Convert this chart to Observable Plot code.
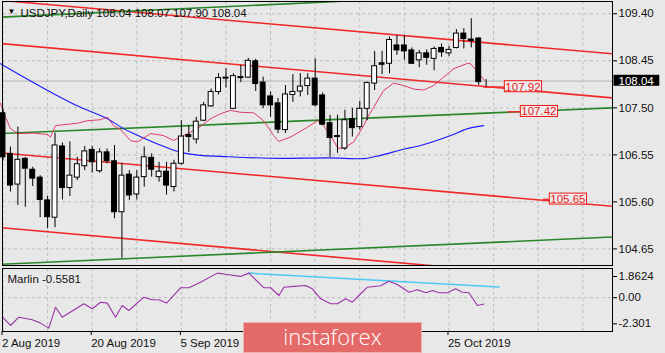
<!DOCTYPE html>
<html><head><meta charset="utf-8">
<script src="https://cdn.jsdelivr.net/npm/d3@7"></script>
<script src="https://cdn.jsdelivr.net/npm/@observablehq/plot@0.6"></script>
<style>
html,body{margin:0;padding:0;background:#e8e8e8;}
#wrap{position:relative;width:665px;height:353px;overflow:hidden;background:#e8e8e8;}
#main,#osc{position:absolute;left:0;}
#main{top:0;} #osc{top:267px;}
svg{display:block;}
.logo{position:absolute;left:243px;top:322px;width:179px;height:31px;background:#e46a6a;border:1px solid #f0b0b0;box-sizing:border-box;color:#fff;font:300 22px "Open Sans",sans-serif;text-align:center;line-height:27px;}
</style></head>
<body><div id="wrap"><div id="main"></div><div id="osc"></div><div class="logo">instaforex</div></div>
<script>
// ---------- data ----------
const symbolTitle = "USDJPY,Daily 108.04 108.07 107.90 108.04";
const open  = [107.39,106.57,105.95,106.47,106.25,106.09,105.63,105.28,106.72,105.88,106.09,106.32,106.65,106.22,106.60,106.42,105.39,106.15,105.75,106.10,106.49,106.10,106.21,105.90,106.37,106.95,106.86,107.24,107.53,107.82,108.11,107.48,108.12,108.11,108.44,108.01,107.73,107.59,107.05,107.76,107.83,107.94,108.09,107.75,107.19,106.93,106.68,107.27,107.11,107.48,107.99,108.40,108.39,108.76,108.76,108.66,108.46,108.60,108.49,108.71,108.60,108.71,109.00,108.88,108.90,108.04];
const high  = [107.47,106.71,107.11,106.50,106.30,106.13,105.71,106.99,106.79,106.81,106.50,106.72,106.72,106.67,106.67,106.74,106.38,106.23,106.23,106.71,106.57,106.40,106.40,106.44,107.24,107.14,107.31,107.61,107.88,108.19,108.29,108.19,108.36,108.50,108.48,108.12,107.82,107.69,107.95,108.17,108.19,108.19,108.49,107.80,107.35,107.35,107.45,107.49,107.63,108.02,108.64,108.64,108.93,108.96,108.96,108.71,108.66,108.67,108.73,108.79,108.74,109.08,109.10,109.30,108.92,108.07];
const low   = [106.42,105.80,105.53,105.49,105.91,105.28,105.06,105.08,105.64,105.71,106.03,106.23,106.18,106.18,106.37,105.26,104.46,105.63,105.64,105.90,106.10,106.00,105.74,105.80,106.34,106.60,106.77,107.22,107.51,107.76,107.90,107.47,108.01,108.10,107.83,107.48,107.31,106.98,106.98,107.61,107.72,107.75,107.52,107.14,106.50,106.58,106.64,106.91,107.05,107.24,107.85,108.17,108.19,108.56,108.46,108.38,108.31,108.36,108.25,108.52,108.54,108.69,108.69,108.71,107.95,107.90];
const close = [106.50,105.93,106.45,106.27,106.07,105.64,105.29,106.74,105.88,106.13,106.36,106.62,106.40,106.60,106.42,105.39,106.13,105.73,106.09,106.50,106.25,106.21,105.93,106.37,106.92,106.91,107.22,107.55,107.82,108.10,108.09,108.14,108.10,108.45,107.98,107.55,107.55,107.06,107.77,107.82,107.93,108.09,107.55,107.16,106.89,106.91,107.25,107.09,107.48,108.00,108.34,108.37,108.87,108.66,108.64,108.39,108.60,108.51,108.69,108.62,108.67,109.00,108.89,108.85,108.02,108.04];

const priceTicks = [109.40,108.45,107.50,106.55,105.60,104.65];
const lastPrice = 108.04;
const gridIdx = [0,6,12,18,24,30,36,42,48,54,60,66,72,78];
const xTickIdx = [0,12,24,60];
const xTickLabels = ["2 Aug 2019","20 Aug 2019","5 Sep 2019","25 Oct 2019"];

// moving averages (bar index, price)
const blueIdx = [-0.34,6.39,10.43,14.06,16.22,17.56,20.79,23.89,26.58,29.27,37.35,43.67,48.12,50.81,53.50,56.19,60.23,62.52,64.67];
const blueVal = [108.39,107.82,107.51,107.28,107.08,106.98,106.77,106.60,106.54,106.52,106.48,106.49,106.47,106.54,106.65,106.74,106.94,107.08,107.14];
const pinkIdx = [-0.34,0.34,1.01,1.95,4.10,5.99,6.39,7.07,10.03,11.37,13.12,14.06,14.87,15.81,17.16,18.10,19.85,21.60,22.95,24.83,26.18,27.93,29.27,30.62,31.97,33.72,35.06,36.41,37.08,38.70,40.98,42.33,43.14,44.35,45.02,45.83,47.17,48.52,49.06,49.87,51.21,52.56,53.90,55.25,56.59,57.94,59.29,60.63,62.52,62.92,63.86,64.80];
const pinkVal = [107.59,107.31,107.08,106.98,106.99,106.96,106.91,107.14,107.19,107.24,107.26,107.31,107.14,107.06,106.84,106.81,106.98,106.94,106.84,106.98,107.08,107.28,107.38,107.45,107.41,107.40,107.24,106.94,106.82,106.91,107.11,107.24,107.14,106.87,106.69,106.68,106.81,107.14,107.31,107.51,107.85,108.00,107.95,107.88,107.86,107.95,108.12,108.29,108.40,108.39,108.22,108.05];

// channel lines: price at left edge and at right edge
const lineIdx = [-0.34, 82.03];
const redStart = [109.67,108.80,106.59,105.08];
const redEnd   = [108.59,107.70,105.51,103.99];
const greenStart = [109.33,106.98,104.34];
const greenEnd   = [109.91,107.50,104.89];

// level labels
const levelText  = ["107.92","107.42","105.65"];
const levelPrice = [107.92,107.42,105.65];
const levelIdx   = [67.45,69.6,73.5];
const stubIdx    = [64.7,67.9,72.7];

// Marlin oscillator
const marlinName = "Marlin -0.5581";
const marlinIdx = [0.03,1.01,2.13,3.93,5.05,6.16,7.07,7.97,10.87,12.01,13.12,14.02,15.14,16.04,16.93,18.95,20.08,20.97,22.01,23.89,25.01,26.58,28.83,30.17,31.97,33.08,35.10,36.00,37.12,37.79,39.14,40.71,41.61,42.73,44.08,44.98,46.10,47.00,47.89,49.02,50.81,51.92,53.05,54.62,55.75,56.86,57.77,58.65,59.78,60.90,61.80,62.69,63.82,64.71];
const marlinVal = [-1.77,-2.45,-1.72,-1.95,-2.24,-2.68,-0.84,-1.72,-0.54,-0.98,-0.40,-0.48,-1.72,-0.69,-1.13,0.04,-0.18,-0.18,-0.48,0.87,0.87,1.36,2.16,2.04,1.87,2.16,0.87,0.87,0.19,0.92,0.99,1.07,0.78,-0.10,-0.54,-0.54,-0.10,-0.40,0.19,0.92,1.05,1.45,1.16,0.48,0.70,0.43,0.63,0.43,0.43,0.78,0.48,0.43,-0.69,-0.56];
const trendIdx = [33.08,66.73];
const trendVal = [2.16,0.93];
const oscTicks = [1.8624,0,-2.301];
const oscTickLabels = ["1.8624","0.00","-2.301"];

// ---------- build ----------
const candles = open.map((o,i)=>({i, open:o, high:high[i], low:low[i], close:close[i]}));
const pts = (xs,ys)=>xs.map((x,k)=>({i:x, v:ys[k]}));
const seg = (a,b)=>[{i:lineIdx[0], v:a},{i:lineIdx[1], v:b}];
const levels = levelText.map((t,k)=>({t, p:levelPrice[k], i:levelIdx[k], s:stubIdx[k]}));

const FONT = "Liberation Sans, Arial, sans-serif";
const W = 665;
const xDom = [-0.067, 82.0];
const grid = {stroke:"#bcbcbc", strokeOpacity:1, strokeDasharray:"3,3"};

const main = Plot.plot({
  width: W, height: 267,
  marginLeft: 2, marginRight: 53, marginTop: 1, marginBottom: 2,
  style: {fontFamily: FONT, fontSize: "11.5px", background: "transparent", color: "#000"},
  x: {type:"linear", domain: xDom, axis: null},
  y: {type:"linear", domain: [104.315, 109.648], axis: null},
  marks: [
    Plot.gridY(priceTicks, grid),
    Plot.gridX(gridIdx, grid),
    Plot.ruleY([lastPrice], {stroke:"#b4b4b4", strokeWidth:1}),
    ...redStart.map((a,k)=>Plot.line(seg(a, redEnd[k]), {x:"i", y:"v", stroke:"#f22828", strokeWidth:1.6, clip:true})),
    ...greenStart.map((a,k)=>Plot.line(seg(a, greenEnd[k]), {x:"i", y:"v", stroke:"#2a862a", strokeWidth:1.6, clip:true})),
    Plot.line(pts(blueIdx, blueVal), {x:"i", y:"v", stroke:"#1a1aff", strokeWidth:1.1, curve:"monotone-x"}),
    Plot.line(pts(pinkIdx, pinkVal), {x:"i", y:"v", stroke:"#e03c64", strokeWidth:1, curve:"linear"}),
    Plot.ruleX(candles, {x:"i", y1:"low", y2:"high", stroke:"#000", strokeWidth:1}),
    Plot.rect(candles, {x1:d=>d.i-0.33, x2:d=>d.i+0.33, y1:"open", y2:"close",
      fill:d=>d.close>=d.open?"#fff":"#000", stroke:"#000", strokeWidth:1}),
    Plot.ruleY(levels, {y:"p", x1:"s", x2:"i", stroke:"#f22828", strokeWidth:1.4}),
    Plot.text(levels, {x:"i", y:"p", text:"t", fill:"#f01818", textAnchor:"start", dx:1, fontSize:11.5}),
    Plot.frame({stroke:"#000", strokeWidth:1}),
    Plot.axisY(priceTicks, {anchor:"right", label:null, tickSize:4, tickPadding:2, tickFormat:d=>d.toFixed(2), fill:"#111"}),
    Plot.text([lastPrice], {y:d=>d, frameAnchor:"right", text:d=>d.toFixed(2), textAnchor:"start", dx:6, fill:"#fff"}),
    Plot.text(["\u25BC"], {frameAnchor:"top-left", dx:5, dy:12, lineAnchor:"bottom", fontSize:8, fill:"#000"}),
    Plot.text([symbolTitle], {frameAnchor:"top-left", dx:18, dy:15, lineAnchor:"bottom", fill:"#111", textAnchor:"start"})
  ]
});
document.getElementById("main").appendChild(main);

const osc = Plot.plot({
  width: W, height: 86,
  marginLeft: 2, marginRight: 53, marginTop: 1, marginBottom: 22,
  style: {fontFamily: FONT, fontSize: "11.5px", background: "transparent", color: "#000"},
  x: {type:"linear", domain: xDom, axis: null},
  y: {type:"linear", domain: [-2.979, 2.567], axis: null},
  marks: [
    Plot.gridY([0], grid),
    Plot.gridX(gridIdx, grid),
    Plot.line(pts(trendIdx, trendVal), {x:"i", y:"v", stroke:"#4cc8f4", strokeWidth:1.5}),
    Plot.line(pts(marlinIdx, marlinVal), {x:"i", y:"v", stroke:"#9a32a8", strokeWidth:1.1}),
    Plot.frame({stroke:"#000", strokeWidth:1}),
    Plot.axisY(oscTicks, {anchor:"right", label:null, tickSize:4, tickPadding:2, tickFormat:d=>oscTickLabels[oscTicks.indexOf(d)], fill:"#111"}),
    Plot.axisX(xTickIdx, {anchor:"bottom", label:null, tickSize:4, tickPadding:3, textAnchor:"start", dx:-1, tickFormat:d=>xTickLabels[xTickIdx.indexOf(d)], fill:"#111"}),
    Plot.text([marlinName], {frameAnchor:"top-left", dx:5, dy:14, lineAnchor:"bottom", fill:"#111", textAnchor:"start"})
  ]
});
document.getElementById("osc").appendChild(osc);

// boxes behind labels (found by their text)
const curText = lastPrice.toFixed(2);
main.querySelectorAll("text").forEach(t => {
  const s = (t.textContent || "").trim();
  const isLvl = levelText.includes(s), isCur = s === curText;
  if (!isLvl && !isCur) return;
  const b = t.getBBox();
  const r = document.createElementNS("http://www.w3.org/2000/svg", "rect");
  const padX = isCur ? 5 : 1;
  r.setAttribute("x", b.x - padX); r.setAttribute("y", b.y);
  r.setAttribute("width", b.width + 2*padX); r.setAttribute("height", b.height - 1);
  r.setAttribute("fill", isCur ? "#000" : "#ececec");
  if (t.getAttribute("transform")) r.setAttribute("transform", t.getAttribute("transform"));
  if (isLvl) { r.setAttribute("stroke", "#f01818"); r.setAttribute("stroke-width", 1); }
  t.parentNode.insertBefore(r, t);
});
</script>
</body></html>
